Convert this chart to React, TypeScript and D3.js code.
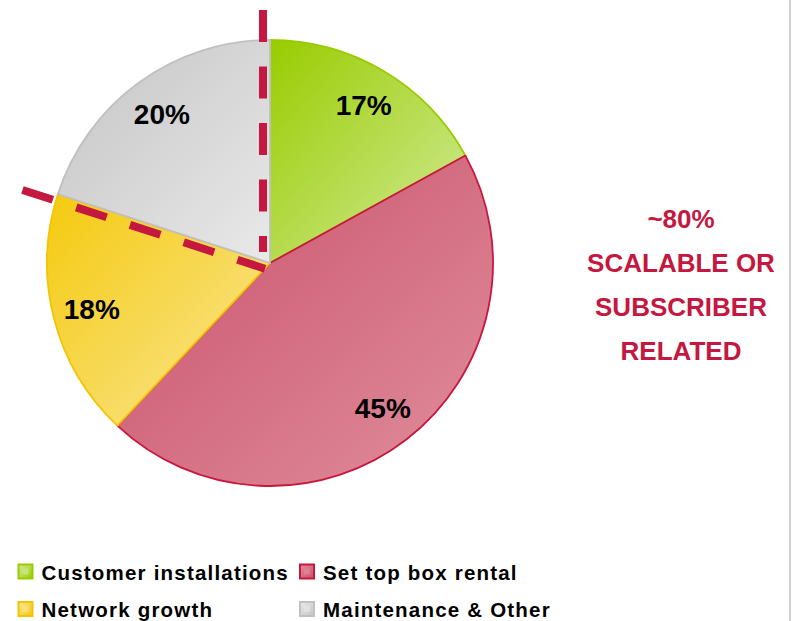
import React from 'react';
import * as d3 from 'd3';

const categories = ['Customer installations', 'Set top box rental', 'Network growth', 'Maintenance & Other'];
const shares = [17, 45, 18, 20];
const labels = ['17%', '45%', '18%', '20%'];
const darkColors = ['#99cc00', '#c9506a', '#f5ca0e', '#c4c4c4'];
const lightColors = ['#d3eb9b', '#e08e9c', '#f9e697', '#e9e9e9'];
const strokeColors = ['#99cc00', '#c8173c', '#f2c500', '#c0c0c0'];
const calloutLines = ['~80%', 'SCALABLE OR', 'SUBSCRIBER', 'RELATED'];
const dividerAt = [0, 80];

const W = 792;
const H = 621;
const FONT = '"Liberation Sans", Arial, Helvetica, sans-serif';
const ACCENT = '#c41840';

export default function App() {
  const cx = 270;
  const cy = 263;
  const R = 223;
  const pie = d3.pie<number>().sort(null).value((d) => d);
  const arcs = pie(shares);
  const arc = d3.arc<d3.PieArcDatum<number>>().innerRadius(0).outerRadius(R);
  const labelArc = d3.arc<d3.PieArcDatum<number>>().innerRadius(184).outerRadius(184);
  const angle = d3.scaleLinear().domain([0, 100]).range([0, 2 * Math.PI]);

  const dividerExtents = [
    [11, 253],
    [3, 258],
  ];
  const dividers = dividerAt.map((p, i) => {
    const a = angle(p);
    const ux = Math.sin(a);
    const uy = -Math.cos(a);
    const nx = -Math.cos(a) * 7;
    const ny = -Math.sin(a) * 7;
    const [t0, t1] = dividerExtents[i];
    return {
      x1: cx + nx + ux * t1,
      y1: cy + ny + uy * t1,
      x2: cx + nx + ux * t0,
      y2: cy + ny + uy * t0,
    };
  });

  const legendX = [18.5, 300];
  const legendY = [564.5, 602];

  return (
    <svg
      width={W}
      height={H}
      style={{ position: 'absolute', left: 0, top: 0, background: '#fff' }}
      fontFamily={FONT}
    >
      <defs>
        {categories.map((c, i) => (
          <linearGradient key={c} id={`g${i}`} x1="0" y1="0" x2="1" y2="1">
            <stop offset="0" stopColor={darkColors[i]} />
            <stop offset="1" stopColor={lightColors[i]} />
          </linearGradient>
        ))}
        {categories.map((c, i) => (
          <linearGradient key={c + 'm'} id={`m${i}`} x1="0" y1="0" x2="1" y2="1">
            <stop offset="0" stopColor={lightColors[i]} />
            <stop offset="1" stopColor={darkColors[i]} />
          </linearGradient>
        ))}
      </defs>
      <rect x={0} y={0} width={W} height={H} fill="#ffffff" />
      <line x1={790} y1={0} x2={790} y2={H} stroke="#d2d2d2" strokeWidth={2} />

      <g transform={`translate(${cx},${cy})`}>
        {arcs.map((a, i) => (
          <path
            key={i}
            d={arc(a) || ''}
            fill={`url(#g${i})`}
            stroke={strokeColors[i]}
            strokeWidth={1.8}
            strokeLinejoin="round"
          />
        ))}
        {arcs.map((a, i) => {
          const [x, y] = labelArc.centroid(a);
          return (
            <text
              key={'l' + i}
              x={x}
              y={y + 10}
              textAnchor="middle"
              fontSize={28}
              fontWeight="bold"
              fill="#000"
            >
              {labels[i]}
            </text>
          );
        })}
      </g>

      {dividers.map((d, i) => (
        <line
          key={'d' + i}
          x1={d.x1}
          y1={d.y1}
          x2={d.x2}
          y2={d.y2}
          stroke={ACCENT}
          strokeWidth={8}
          strokeDasharray="32 24.5"
        />
      ))}

      {calloutLines.map((t, i) => (
        <text
          key={'c' + i}
          x={681}
          y={228 + i * 44}
          textAnchor="middle"
          fontSize={26}
          fontWeight="bold"
          fill={ACCENT}
        >
          {t}
        </text>
      ))}

      {categories.map((c, i) => {
        const col = i % 2;
        const row = Math.floor(i / 2);
        const x = legendX[col];
        const y = legendY[row];
        return (
          <g key={'lg' + i}>
            <rect
              x={x}
              y={y}
              width={14}
              height={14}
              fill={`url(#m${i})`}
              stroke={strokeColors[i]}
              strokeWidth={2}
            />
            <rect x={x + 4} y={y + 4} width={6} height={6} fill={lightColors[i]} opacity={0.6} />
            <text
              x={x + 23}
              y={y + 15}
              fontSize={20.5}
              fontWeight="bold"
              letterSpacing={1.2}
              fill="#000"
            >
              {c}
            </text>
          </g>
        );
      })}
    </svg>
  );
}
